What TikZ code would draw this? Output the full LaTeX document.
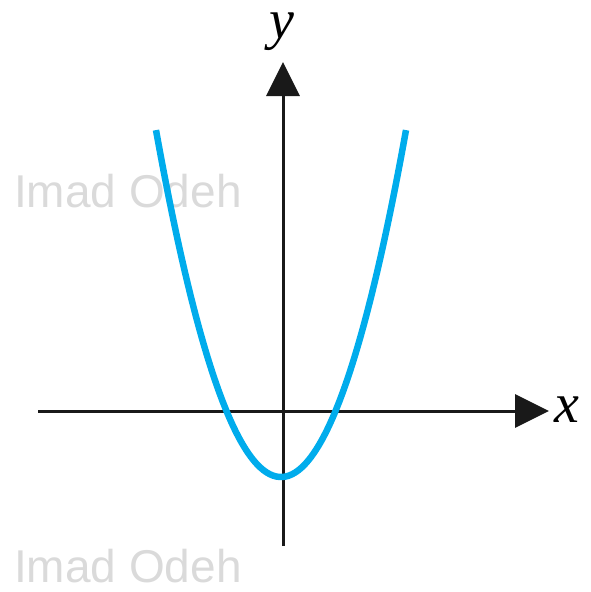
\documentclass[tikz,border=0pt]{standalone}
\usepackage{fontspec}
\setmainfont{Liberation Serif}
\newfontfamily\wmfont{Liberation Sans}
\usetikzlibrary{arrows.meta}
\definecolor{curvecyan}{RGB}{0,172,236}
\definecolor{wmgray}{RGB}{218,218,218}

\begin{document}
\begin{tikzpicture}[x=1pt, y=-1pt,
	axis/.style={line width=3pt, black!90, -{Triangle[length=34pt, width=33pt]}},
	watermark/.style={text=wmgray, font=\wmfont\fontsize{46}{46}\selectfont, anchor=base west, inner sep=0pt},
	axislabel/.style={font=\fontsize{56}{56}\selectfont\itshape, inner sep=0pt}]
			\useasboundingbox (0,0) rectangle (590,592);

			\node[watermark] (wm1) at (14,207) {Imad Odeh};
			\node[watermark] (wm2) at (14,582) {Imad Odeh};

			\coordinate (xl) at (38,411);
			\coordinate (xr) at (549,411);
			\coordinate (yb) at (283,546);
			\coordinate (yt) at (283,62);

			\node[axislabel] (xlab) at (567,410) {x};
			\node[axislabel] (ylab) at (282,32) {y};

			\draw[axis] (xl) to (xr);
			\draw[axis] (yb) to (yt);

			\draw[curvecyan, line width=6.5pt, domain=-125:125, samples=80, smooth] plot ({281+\x}, {477-0.0222*\x*\x});
		\end{tikzpicture}
\end{document}
